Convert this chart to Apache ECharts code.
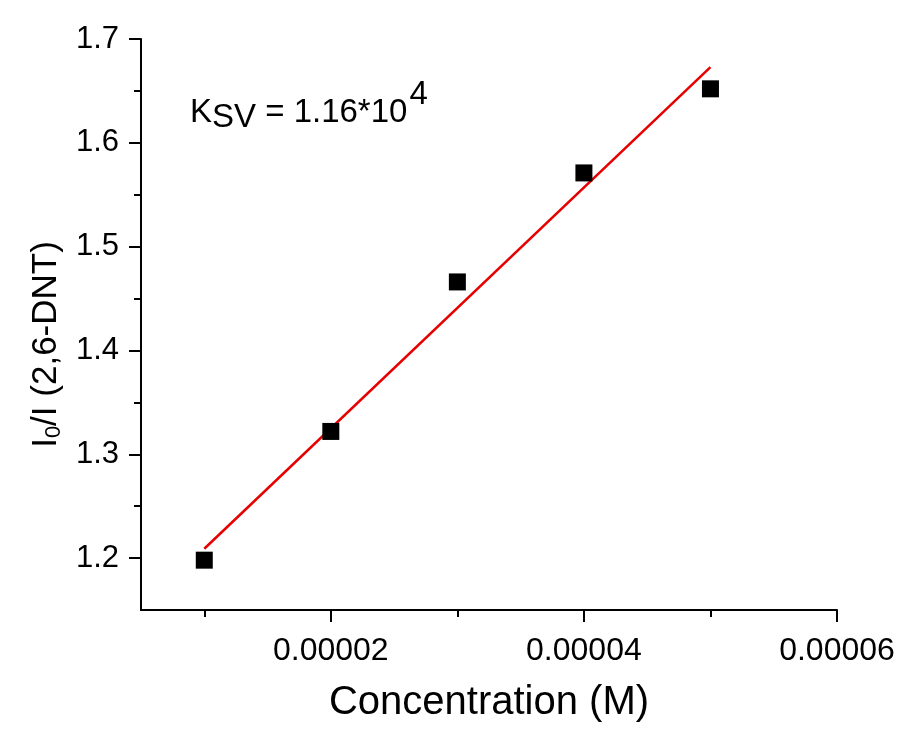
<!DOCTYPE html>
<html>
<head>
<meta charset="utf-8">
<script src="https://cdn.jsdelivr.net/npm/echarts@6/dist/echarts.min.js"></script>
<style>
html,body{margin:0;padding:0;background:#fff;}
#c{width:901px;height:735px;}
</style>
</head>
<body>
<div id="c"></div>
<script>
// data
const concentration = [0.00001, 0.00002, 0.00003, 0.00004, 0.00005];
const ratio = [1.198, 1.322, 1.466, 1.571, 1.652];
const fitX = [0.00001, 0.00005];
const fitY = [1.209, 1.673];
const xMajorTicks = [0.00002, 0.00004, 0.00006];
const xMinorTicks = [0.00001, 0.00003, 0.00005];
const yMajorTicks = [1.2, 1.3, 1.4, 1.5, 1.6, 1.7];
const yMinorTicks = [1.25, 1.35, 1.45, 1.55, 1.65];

const FONT = '"Liberation Sans", Arial, sans-serif';
const chart = echarts.init(document.getElementById('c'));

const grid = {left: 141, right: 64, top: 39, bottom: 125};
const xBase = {
  type: 'value', min: 0.000005, max: 0.00006, position: 'bottom',
  splitLine: {show: false}
};
const yBase = {
  type: 'value', min: 1.15, max: 1.7, position: 'left',
  splitLine: {show: false}
};

chart.setOption({
  backgroundColor: '#ffffff',
  animation: false,
  grid: grid,
  xAxis: [
    Object.assign({}, xBase, {
      name: 'Concentration (M)',
      nameLocation: 'middle',
      nameGap: 73,
      nameTextStyle: {fontFamily: FONT, fontSize: 40, color: '#000'},
      axisLine: {show: true, lineStyle: {color: '#000', width: 2}},
      axisTick: {show: true, inside: false, length: 12, lineStyle: {color: '#000', width: 2}, customValues: xMajorTicks},
      axisLabel: {show: true, margin: 25, fontFamily: FONT, fontSize: 32, color: '#000',
        customValues: xMajorTicks, formatter: v => v.toFixed(5)}
    }),
    Object.assign({}, xBase, {
      axisLine: {show: false},
      axisTick: {show: true, inside: false, length: 7, lineStyle: {color: '#000', width: 2}, customValues: xMinorTicks},
      axisLabel: {show: false}
    })
  ],
  yAxis: [
    Object.assign({}, yBase, {
      name: '{n|I}{s|0}{n|/I (2,6-DNT)}',
      nameLocation: 'middle',
      nameGap: 76,
      nameTextStyle: {
        padding: [0, 40, 0, 0],
        rich: {
          n: {fontFamily: FONT, fontSize: 35, color: '#000', verticalAlign: 'middle'},
          s: {fontFamily: FONT, fontSize: 22, color: '#000', verticalAlign: 'top', padding: [15, 0, 0, 0]}
        }
      },
      axisLine: {show: true, lineStyle: {color: '#000', width: 2}},
      axisTick: {show: true, inside: false, length: 12, lineStyle: {color: '#000', width: 2}, customValues: yMajorTicks},
      axisLabel: {show: true, margin: 22, fontFamily: FONT, fontSize: 31, color: '#000',
        customValues: yMajorTicks, formatter: v => v.toFixed(1)}
    }),
    Object.assign({}, yBase, {
      axisLine: {show: false},
      axisTick: {show: true, inside: false, length: 7, lineStyle: {color: '#000', width: 2}, customValues: yMinorTicks},
      axisLabel: {show: false}
    })
  ],
  graphic: [{
    type: 'text',
    left: 190,
    top: 78,
    style: {
      text: '{n|K}{s|SV}{n| = 1.16*10}{p|4}',
      rich: {
        n: {fontFamily: FONT, fontSize: 33, fill: '#000', verticalAlign: 'middle'},
        s: {fontFamily: FONT, fontSize: 33, fill: '#000', verticalAlign: 'top', padding: [23, 0, 0, 0]},
        p: {fontFamily: FONT, fontSize: 33, fill: '#000', verticalAlign: 'bottom', padding: [0, 0, 36, 2]}
      }
    }
  }],
  series: [
    {
      type: 'line',
      xAxisIndex: 0, yAxisIndex: 0,
      data: fitX.map((x, i) => [x, fitY[i]]),
      showSymbol: false,
      symbol: 'none',
      lineStyle: {color: '#e60000', width: 2.5},
      z: 2
    },
    {
      type: 'scatter',
      xAxisIndex: 0, yAxisIndex: 0,
      data: concentration.map((x, i) => [x, ratio[i]]),
      symbol: 'rect',
      symbolSize: 17,
      itemStyle: {color: '#000', opacity: 1},
      z: 3
    }
  ]
});
</script>
</body>
</html>
